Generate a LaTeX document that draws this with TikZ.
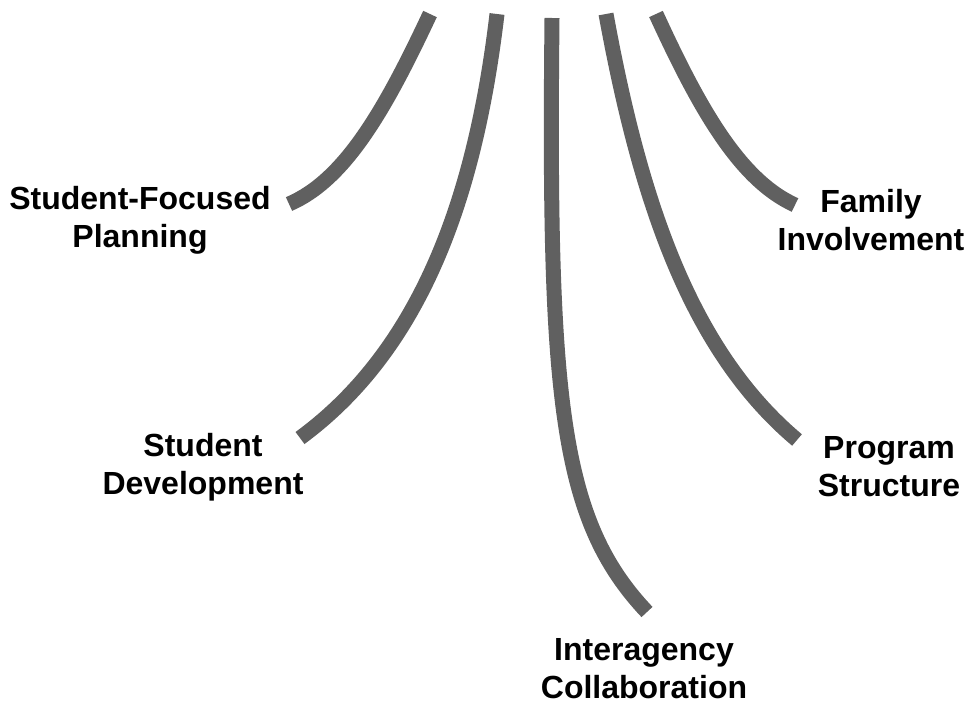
\documentclass[tikz,border=0pt]{standalone}
\usepackage{fontspec}
\setmainfont{Liberation Sans}
\definecolor{branch}{HTML}{606060}
\begin{document}
\begin{tikzpicture}[x=1pt,y=-1pt,
  branchline/.style={draw=branch,line width=15pt,line cap=butt},
  lbl/.style={font=\bfseries\fontsize{32}{38}\selectfont,align=center,inner sep=0pt,text=black}]
\useasboundingbox (0,0) rectangle (969,706);
% labels
\node[lbl] (sfp) at (140,220) {Student-Focused\\Planning};
\node[lbl] (sd) at (203,467) {Student\\Development};
\node[lbl] (ic) at (644,669) {Interagency\\Collaboration};
\node[lbl] (ps) at (889,467) {Program\\Structure};
\node[lbl] (fi) at (871,220) {Family\\Involvement};
% end points
\coordinate (t1) at (430,14);
\coordinate (b1) at (289,204);
\coordinate (t2) at (497,14);
\coordinate (b2) at (300,438);
\coordinate (t3) at (552,18);
\coordinate (b3) at (647,612);
\coordinate (t4) at (606,14);
\coordinate (b4) at (797,440);
\coordinate (t5) at (656,14);
\coordinate (b5) at (795,205);
% branches
\draw[branchline] (t1) .. controls (385,110) and (345,180) .. (b1);
\draw[branchline] (t2) .. controls (475,200) and (420,350) .. (b2);
\draw[branchline] (t3) .. controls (548,400) and (560,520) .. (b3);
\draw[branchline] (t4) .. controls (640,200) and (690,350) .. (b4);
\draw[branchline] (t5) .. controls (700,110) and (740,180) .. (b5);
\end{tikzpicture}
\end{document}
